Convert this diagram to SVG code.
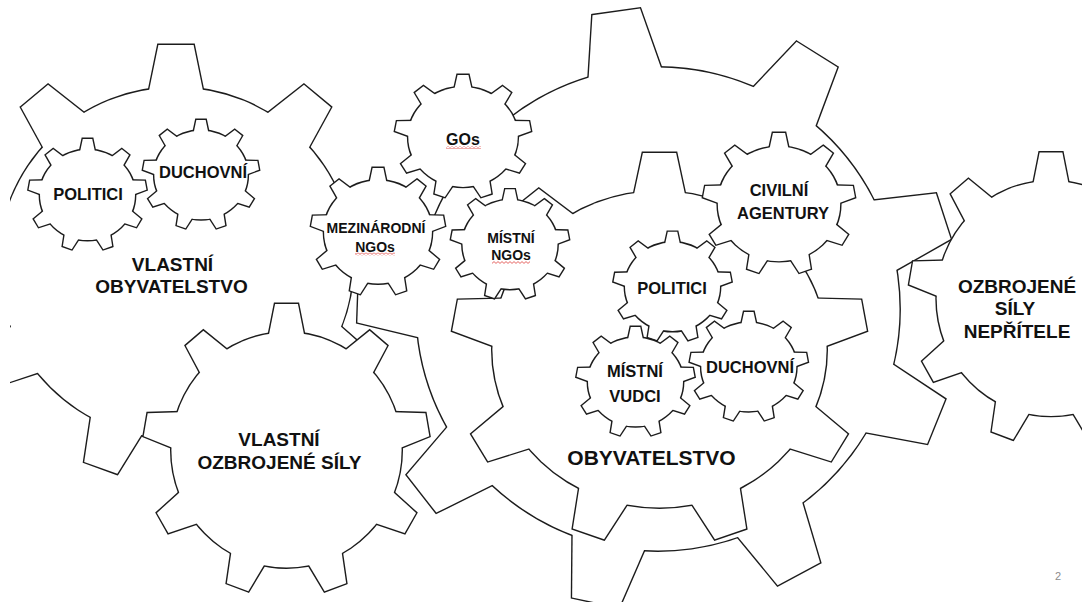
<svg xmlns="http://www.w3.org/2000/svg" xmlns:xlink="http://www.w3.org/1999/xlink" width="1082" height="602" viewBox="0 0 1082 602">
<style>
.o{fill:none;stroke:#1c1c1c;stroke-width:2.8;stroke-linejoin:miter}
.w{fill:#ffffff;stroke:none}
text{font-family:"Liberation Sans",Arial,sans-serif;font-weight:bold;fill:#111111;text-anchor:middle}
.big{font-size:19px}
.mid{font-size:16.5px}
.sm{font-size:14px}
.num{font-size:11px;font-weight:normal;fill:#8c8c8c}
.sq{fill:url(#squig)}
</style>
<defs>
<g id="g9">
<circle cx="0" cy="0" r="80.5" vector-effect="non-scaling-stroke"/>
<polygon points="-8,-100 8,-100 13.7,-72 -13.7,-72" vector-effect="non-scaling-stroke"/>
<polygon points="-8,-100 8,-100 13.7,-72 -13.7,-72" transform="rotate(40)" vector-effect="non-scaling-stroke"/>
<polygon points="-8,-100 8,-100 13.7,-72 -13.7,-72" transform="rotate(80)" vector-effect="non-scaling-stroke"/>
<polygon points="-8,-100 8,-100 13.7,-72 -13.7,-72" transform="rotate(120)" vector-effect="non-scaling-stroke"/>
<polygon points="-8,-100 8,-100 13.7,-72 -13.7,-72" transform="rotate(160)" vector-effect="non-scaling-stroke"/>
<polygon points="-8,-100 8,-100 13.7,-72 -13.7,-72" transform="rotate(200)" vector-effect="non-scaling-stroke"/>
<polygon points="-8,-100 8,-100 13.7,-72 -13.7,-72" transform="rotate(240)" vector-effect="non-scaling-stroke"/>
<polygon points="-8,-100 8,-100 13.7,-72 -13.7,-72" transform="rotate(280)" vector-effect="non-scaling-stroke"/>
<polygon points="-8,-100 8,-100 13.7,-72 -13.7,-72" transform="rotate(320)" vector-effect="non-scaling-stroke"/>
</g>
<clipPath id="slide"><rect x="10" y="0" width="1072" height="602"/></clipPath>
<pattern id="squig" x="0" y="0" width="4" height="3" patternUnits="userSpaceOnUse">
<path d="M0,2.4 L2,0.6 L4,2.4" fill="none" stroke="#e0403c" stroke-width="0.8"/>
</pattern>
</defs>
<rect x="0" y="0" width="1082" height="602" fill="#ffffff"/>
<g id="gears" clip-path="url(#slide)">
<g id="gear-background">
<use href="#g9" class="o" transform="translate(658,309) scale(3,3) rotate(-8)"/>
<use href="#g9" class="w" transform="translate(658,309) scale(3,3) rotate(-8)"/>
</g>
<g id="gear-vlastni-obyvatelstvo">
<use href="#g9" class="o" transform="translate(176,263) scale(2.2,2.18)"/>
<use href="#g9" class="w" transform="translate(176,263) scale(2.2,2.18)"/>
<text class="big" x="172.5" y="271">VLASTNÍ</text>
<text class="big" x="171.5" y="293">OBYVATELSTVO</text>
</g>
<g id="gear-vlastni-ozbrojene-sily">
<use href="#g9" class="o" transform="translate(286.5,450) scale(1.43,1.46)"/>
<use href="#g9" class="w" transform="translate(286.5,450) scale(1.43,1.46)"/>
<text class="big" x="279" y="446">VLASTNÍ</text>
<text class="big" x="279.5" y="469">OZBROJENÉ SÍLY</text>
</g>
<g id="gear-obyvatelstvo">
<use href="#g9" class="o" transform="translate(659.5,349.4) scale(2.076,1.964)"/>
<use href="#g9" class="w" transform="translate(659.5,349.4) scale(2.076,1.964)"/>
<text x="651.5" y="465" style="font-size:21px">OBYVATELSTVO</text>
</g>
<g id="gear-ozbrojene-sily-nepritele">
<use href="#g9" class="o" transform="translate(1051,298.4) scale(1.42,1.46)"/>
<use href="#g9" class="w" transform="translate(1051,298.4) scale(1.42,1.46)"/>
<text class="big" x="1017" y="293">OZBROJENÉ</text>
<text class="big" x="1015" y="315">SÍLY</text>
<text class="big" x="1017" y="338">NEPŘÍTELE</text>
</g>
<g id="gear-mezinarodni-ngos">
<use href="#g9" class="o" transform="translate(378,232) scale(0.67,0.64)"/>
<use href="#g9" class="w" transform="translate(378,232) scale(0.67,0.64)"/>
<text class="sm" x="376" y="233">MEZINÁRODNÍ</text>
<text class="sm" x="375" y="251.5">NGOs</text>
<rect class="sq" x="355" y="252.5" width="40" height="3"/>
</g>
<g id="gear-gos">
<use href="#g9" class="o" transform="translate(463,137) scale(0.68,0.62)"/>
<use href="#g9" class="w" transform="translate(463,137) scale(0.68,0.62)"/>
<text x="463" y="145" style="font-size:16px">GOs</text>
<rect class="sq" x="446" y="146" width="35" height="3"/>
</g>
<g id="gear-mistni-ngos">
<use href="#g9" class="o" transform="translate(510,244.6) scale(0.59,0.553)"/>
<use href="#g9" class="w" transform="translate(510,244.6) scale(0.59,0.553)"/>
<text class="sm" x="511" y="242.7">MÍSTNÍ</text>
<text class="sm" x="511" y="260">NGOs</text>
<rect class="sq" x="492" y="261" width="38" height="3"/>
</g>
<g id="gear-politici-left">
<use href="#g9" class="o" transform="translate(87.5,195) scale(0.59,0.56)"/>
<use href="#g9" class="w" transform="translate(87.5,195) scale(0.59,0.56)"/>
<text class="mid" x="88" y="199.5">POLITICI</text>
</g>
<g id="gear-duchovni-left">
<use href="#g9" class="o" transform="translate(201,175) scale(0.58,0.55)"/>
<use href="#g9" class="w" transform="translate(201,175) scale(0.58,0.55)"/>
<text class="mid" x="203" y="178">DUCHOVNÍ</text>
</g>
<g id="gear-civilni-agentury">
<use href="#g9" class="o" transform="translate(779,204) scale(0.76,0.71)"/>
<use href="#g9" class="w" transform="translate(779,204) scale(0.76,0.71)"/>
<text class="mid" x="779" y="195.5">CIVILNÍ</text>
<text class="mid" x="783" y="219">AGENTURY</text>
</g>
<g id="gear-politici-center">
<use href="#g9" class="o" transform="translate(672.5,286.8) scale(0.59,0.55)"/>
<use href="#g9" class="w" transform="translate(672.5,286.8) scale(0.59,0.55)"/>
<text class="mid" x="672" y="294">POLITICI</text>
</g>
<g id="gear-mistni-vudci">
<use href="#g9" class="o" transform="translate(635.5,382) scale(0.59,0.55)"/>
<use href="#g9" class="w" transform="translate(635.5,382) scale(0.59,0.55)"/>
<text class="mid" x="635" y="376.5">MÍSTNÍ</text>
<text class="mid" x="635" y="401.5">VUDCI</text>
</g>
<g id="gear-duchovni-center">
<use href="#g9" class="o" transform="translate(748.8,367) scale(0.59,0.55)"/>
<use href="#g9" class="w" transform="translate(748.8,367) scale(0.59,0.55)"/>
<text class="mid" x="750" y="372.5">DUCHOVNÍ</text>
</g>
</g>
<g id="connectors"/>
<text class="num" x="1058" y="580">2</text>
</svg>
